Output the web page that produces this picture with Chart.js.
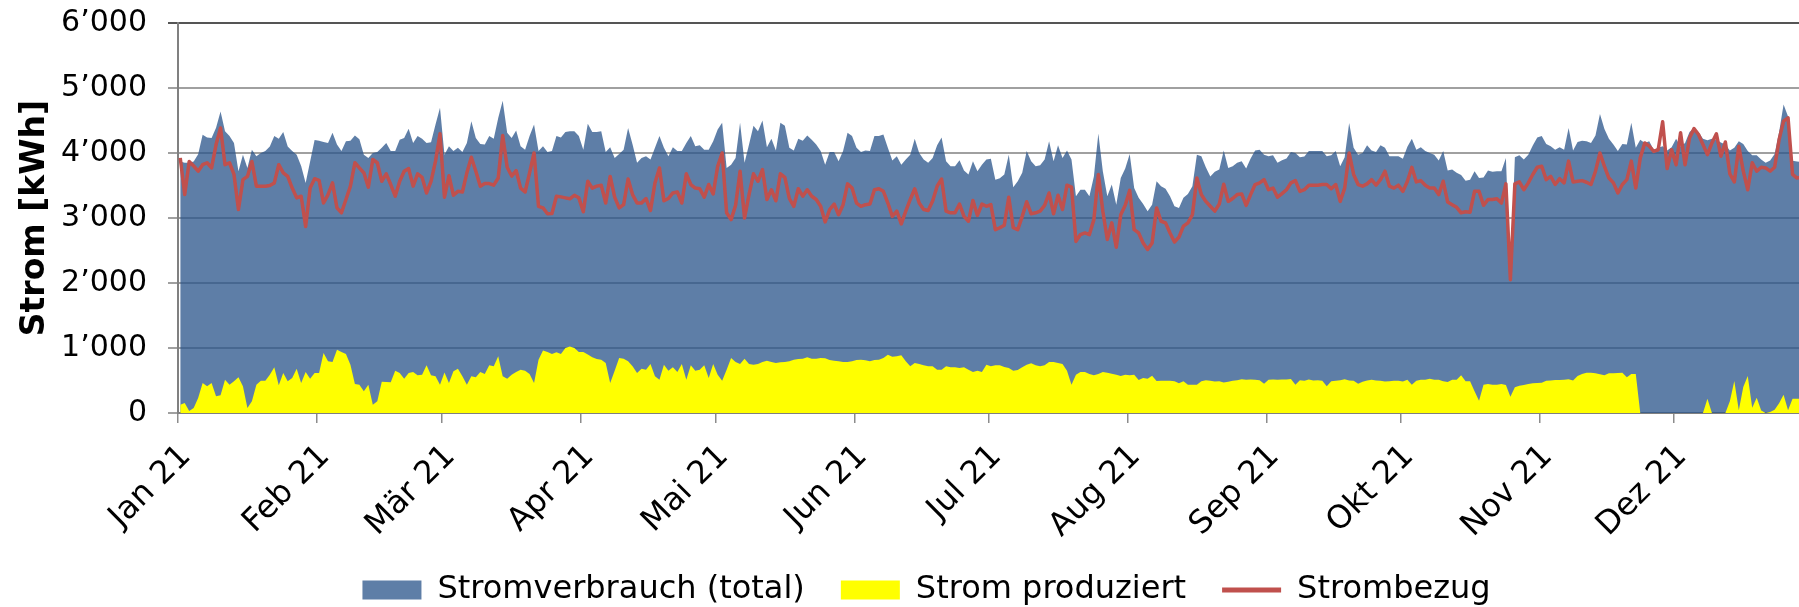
<!DOCTYPE html>
<html>
<head>
<meta charset="utf-8">
<script src="https://cdn.jsdelivr.net/npm/chart.js@4.4.1/dist/chart.umd.min.js"></script>
<style>
  html, body { margin: 0; padding: 0; background: #fff; overflow: hidden; }
  #wrap { width: 1853px; height: 607px; }
</style>
</head>
<body>
<div id="wrap"><canvas id="chart" width="1853" height="607"></canvas></div>
<script>
// Tage ab 1. Januar, an denen die Monate beginnen
const monthStarts = [0, 31, 59, 90, 120, 151, 181, 212, 243, 273, 304, 334];
const monthLabels = ['Jan 21', 'Feb 21', 'Mär 21', 'Apr 21', 'Mai 21', 'Jun 21', 'Jul 21', 'Aug 21', 'Sep 21', 'Okt 21', 'Nov 21', 'Dez 21'];
const yTicks = [0, 1000, 2000, 3000, 4000, 5000, 6000];

// Tageswerte kWh, 1. Jan bis 29. Dez (Rest ist im Bild abgeschnitten)
const verbrauch = [
  // Jan
  3870, 3850, 3850, 3870, 3980, 4280, 4240, 4230, 4390, 4640, 4335, 4260, 4155, 3720, 3975, 3770,
  4050, 3950, 4000, 4030, 4100, 4260, 4220, 4325, 4100, 4030, 3975, 3800, 3540, 3870, 4200,
  // Feb
  4190, 4170, 4155, 4310, 4130, 4030, 4180, 4190, 4270, 4210, 3975, 3925, 4000, 4015,
  4080, 4155, 4030, 4030, 4205, 4230, 4375, 4155, 4260, 4220, 4155, 4165, 4440, 4695,
  // Mär
  3975, 4105, 4030, 4080, 4015, 4155, 4490, 4230, 4140, 4130, 4260, 4220, 4540, 4805, 4310, 4230,
  4345, 4105, 4050, 4260, 4440, 4030, 4105, 4015, 4030, 4260, 4240, 4325, 4335, 4335, 4260,
  // Apr
  4050, 4450, 4325, 4325, 4335, 4015, 4090, 3925, 3985, 4050, 4385, 4130, 3850, 3925, 3950,
  3900, 4080, 4260, 4080, 3950, 4090, 4030, 4030, 4155, 4260, 4105, 4120, 4050, 4050, 4180,
  // Mai
  4360, 4465, 3770, 3820, 3925, 4465, 3850, 4130, 4420, 4335, 4500, 4090, 4220, 4040, 4465, 4420,
  4080, 4040, 4220, 4190, 4270, 4205, 4130, 4030, 3820, 4015, 4015, 3875, 4030, 4310, 4260,
  // Jun
  4080, 4015, 4040, 4030, 4260, 4260, 4285, 4080, 3885, 3950, 3820, 3900, 3975, 4220, 4000,
  3900, 3850, 3925, 4120, 4240, 3875, 3795, 3795, 3890, 3730, 3670, 3875, 3720, 3820, 3900,
  // Jul
  3910, 3590, 3610, 3670, 3975, 3475, 3565, 3695, 4030, 3875, 3795, 3810, 3900, 4180, 3875, 4120,
  3925, 4040, 3900, 3335, 3435, 3435, 3335, 3640, 4300, 3720, 3335, 3515, 3205, 3615, 3760,
  // Aug
  3985, 3460, 3310, 3215, 3105, 3205, 3565, 3490, 3450, 3335, 3180, 3155, 3310, 3370, 3490, 3975,
  3950, 3780, 3640, 3710, 3745, 4040, 3770, 3795, 3850, 3875, 3760, 3915, 4040, 4050, 3975,
  // Sep
  3950, 3965, 3850, 3890, 3915, 4015, 4000, 3935, 3945, 4030, 4030, 4030, 4030, 3950, 3965,
  4030, 3795, 3935, 4460, 4080, 3975, 4000, 4120, 4040, 4015, 4120, 4080, 3950, 3950, 3950,
  // Okt
  3910, 4095, 4220, 4050, 4090, 4030, 4000, 3975, 3885, 4030, 3730, 3745, 3695, 3660, 3575, 3590,
  3720, 3615, 3625, 3730, 3710, 3720, 3720, 3925, 2100, 3935, 3965, 3900, 3975, 4115, 4240,
  // Nov
  4260, 4140, 4105, 4050, 4090, 4050, 4385, 4040, 4170, 4190, 4180, 4155, 4270, 4600, 4370,
  4220, 4130, 4030, 4140, 4130, 4465, 4080, 4205, 4155, 4180, 4050, 4080, 4105, 4040, 4090,
  // Dez
  4220, 4100, 4155, 4325, 4385, 4325, 4220, 4195, 4220, 4200, 4160, 4130, 4040, 4080, 4180,
  4140, 4030, 3965, 3965, 3900, 3850, 3885, 3985, 4325, 4745, 4560, 3880, 3870, 3860
];

const produziert = [
  // Jan
  128, 154, 30, 77, 230, 460, 410, 460, 256, 272, 513, 436, 487, 549, 410, 77,
  180, 436, 498, 498, 590, 703, 426, 616, 487, 539, 682, 462, 631, 528, 616,
  // Feb
  616, 923, 795, 785, 975, 939, 908, 744, 446, 436, 333, 436, 128, 180,
  480, 477, 472, 650, 615, 528, 615, 630, 580, 590, 734, 580, 565, 436,
  // Mär
  625, 460, 641, 682, 565, 436, 565, 549, 630, 600, 734, 718, 872, 565, 528, 590,
  630, 667, 650, 600, 460, 820, 960, 940, 908, 935, 908, 1000, 1025, 1000, 940,
  // Apr
  940, 900, 857, 831, 821, 770, 462, 651, 846, 836, 795, 718, 616, 682, 667,
  754, 564, 513, 744, 651, 703, 631, 754, 513, 734, 651, 667, 734, 539, 754,
  // Mai
  590, 498, 667, 846, 785, 754, 836, 754, 744, 754, 785, 805, 785, 770, 780, 785,
  795, 820, 830, 836, 857, 836, 836, 846, 841, 815, 805, 795, 785, 785, 795,
  // Jun
  815, 820, 810, 795, 815, 820, 846, 898, 867, 872, 887, 795, 718, 770, 754,
  734, 718, 718, 667, 667, 718, 703, 703, 693, 703, 667, 631, 651, 631, 744,
  // Jul
  718, 734, 735, 708, 693, 651, 662, 703, 744, 764, 734, 718, 734, 785, 785, 770,
  754, 651, 436, 590, 631, 631, 600, 580, 600, 631, 620, 605, 590, 570, 590,
  // Aug
  580, 590, 508, 539, 528, 575, 492, 498, 498, 498, 487, 457, 487, 436, 436, 436,
  490, 505, 495, 485, 490, 470, 480, 495, 505, 520, 510, 515, 510, 505, 450,
  // Sep
  510, 515, 510, 515, 515, 525, 435, 505, 495, 515, 500, 505, 495, 410, 490,
  495, 505, 520, 500, 495, 450, 480, 500, 510, 500, 495, 485, 490, 495, 495,
  // Okt
  485, 513, 436, 497, 513, 513, 528, 513, 513, 487, 477, 513, 513, 580, 487, 487,
  333, 190, 436, 446, 436, 436, 446, 431, 251, 395, 420, 431, 445, 456, 462,
  // Nov
  467, 497, 500, 508, 508, 510, 518, 500, 569, 600, 621, 618, 610, 595, 580,
  610, 612, 615, 621, 549, 600, 600, 0, 0, 0, 0, 0, 0, 0, 0,
  // Dez
  0, 0, 0, 0, 0, 0, 0, 221, 0, 0, 0, 0, 180, 492, 41,
  400, 569, 82, 236, 40, 0, 15, 50, 150, 282, 41, 221, 221, 221
];

const bezug = [
  // Jan
  3925, 3360, 3870, 3800, 3720, 3820, 3850, 3770, 4130, 4385, 3820, 3850, 3670, 3130, 3590, 3640,
  3870, 3490, 3490, 3490, 3500, 3540, 3820, 3695, 3640, 3460, 3310, 3335, 2870, 3460, 3605,
  // Feb
  3580, 3230, 3360, 3540, 3155, 3080, 3285, 3490, 3850, 3770, 3695, 3475, 3900, 3850,
  3565, 3680, 3515, 3335, 3565, 3720, 3760, 3490, 3680, 3625, 3385, 3565, 3875, 4295,
  // Mär
  3320, 3650, 3350, 3410, 3400, 3695, 3935, 3720, 3490, 3530, 3530, 3505, 3615, 4270, 3780, 3645,
  3730, 3460, 3400, 3695, 4000, 3180, 3155, 3065, 3070, 3335, 3325, 3310, 3295, 3350, 3310,
  // Apr
  3095, 3565, 3460, 3490, 3505, 3230, 3640, 3320, 3155, 3205, 3600, 3360, 3230, 3230, 3300,
  3115, 3540, 3770, 3265, 3300, 3385, 3400, 3230, 3680, 3515, 3460, 3450, 3320, 3515, 3370,
  // Mai
  3795, 4000, 3080, 2975, 3195, 3720, 3000, 3360, 3680, 3565, 3745, 3285, 3435, 3265, 3680, 3625,
  3300, 3180, 3450, 3335, 3435, 3335, 3285, 3180, 2940, 3130, 3215, 3050, 3205, 3525, 3460,
  // Jun
  3230, 3180, 3205, 3215, 3435, 3450, 3410, 3230, 3025, 3105, 2910, 3105, 3285, 3450, 3230,
  3130, 3115, 3260, 3490, 3600, 3105, 3080, 3080, 3215, 3025, 2950, 3270, 3040, 3215, 3180,
  // Jul
  3205, 2820, 2850, 2890, 3320, 2850, 2820, 3025, 3250, 3065, 3080, 3105, 3195, 3385, 3065, 3350,
  3130, 3505, 3475, 2640, 2745, 2770, 2745, 2975, 3670, 3105, 2670, 2925, 2550, 3050, 3195,
  // Aug
  3425, 2820, 2770, 2615, 2515, 2615, 3155, 2950, 2925, 2770, 2630, 2705, 2875, 2925, 3050, 3615,
  3360, 3255, 3180, 3105, 3215, 3520, 3255, 3300, 3360, 3370, 3195, 3360, 3515, 3540, 3590,
  // Sep
  3435, 3460, 3320, 3375, 3435, 3540, 3575, 3410, 3435, 3505, 3505, 3505, 3515, 3515, 3450,
  3515, 3255, 3460, 4000, 3670, 3515, 3490, 3525, 3590, 3505, 3590, 3720, 3490, 3460, 3505,
  // Okt
  3410, 3565, 3780, 3555, 3575, 3505, 3460, 3460, 3360, 3565, 3245, 3205, 3165, 3080, 3095, 3090,
  3410, 3410, 3195, 3285, 3285, 3295, 3230, 3525, 2050, 3525, 3555, 3435, 3540, 3670, 3780,
  // Nov
  3795, 3590, 3640, 3515, 3605, 3540, 3875, 3555, 3565, 3575, 3550, 3515, 3720, 4000, 3795,
  3615, 3540, 3385, 3515, 3590, 3875, 3460, 3925, 4155, 4105, 4025, 4050, 4480, 3760, 4050,
  // Dez
  3820, 4310, 3820, 4230, 4375, 4285, 4130, 3975, 4155, 4295, 3950, 4170, 3680, 3555, 4105,
  3720, 3435, 3850, 3720, 3780, 3770, 3720, 3780, 4205, 4490, 4540, 3670, 3615, 3630
];

// Punkt eines Tages liegt in der Mitte des Tages
const toPoints = vals => vals.map((v, i) => ({ x: i + 0.5, y: v }));
const fmtKwh = v => v === 0 ? '0' : (v / 1000) + '\u2019000';

Chart.defaults.font.family = '"DejaVu Sans", Verdana, sans-serif';
Chart.defaults.font.size = 32;
Chart.defaults.color = '#000';

// Legende nur so hoch wie nötig, Abstand zwischen Einträgen bleibt gross
const legendFit = {
  id: 'legendFit',
  beforeInit(chart) {
    const fit = chart.legend.fit;
    chart.legend.fit = function () {
      fit.call(this);
      this.height = 69;
    };
  }
};

new Chart(document.getElementById('chart'), {
  type: 'line',
  data: {
    datasets: [
      {
        label: 'Stromverbrauch (total)',
        data: toPoints(verbrauch),
        fill: 'origin',
        backgroundColor: 'rgba(44,85,139,0.76)',
        borderColor: 'rgba(0,0,0,0)',
        borderWidth: 0,
        pointRadius: 0,
        pointStyle: 'rect',
        pointBorderWidth: 0,
        order: 3
      },
      {
        label: 'Strom produziert',
        data: toPoints(produziert),
        fill: 'origin',
        backgroundColor: '#ffff00',
        borderColor: 'rgba(0,0,0,0)',
        borderWidth: 0,
        pointRadius: 0,
        pointStyle: 'rect',
        pointBorderWidth: 0,
        order: 2
      },
      {
        label: 'Strombezug',
        data: toPoints(bezug),
        fill: false,
        borderColor: '#c0504d',
        borderWidth: 3.5,
        borderJoinStyle: 'round',
        tension: 0,
        pointRadius: 0,
        pointStyle: 'line',
        pointBorderColor: '#c0504d',
        pointBorderWidth: 5,
        order: 1
      }
    ]
  },
  options: {
    responsive: false,
    animation: false,
    events: [],
    layout: { padding: { top: 23, right: 0, left: 0, bottom: 0 } },
    plugins: {
      tooltip: { enabled: false },
      legend: {
        position: 'bottom',
        labels: {
          usePointStyle: true,
          pointStyleWidth: 59,
          boxHeight: 19,
          padding: 36,
          sort: (a, b) => a.datasetIndex - b.datasetIndex
        }
      }
    },
    scales: {
      x: {
        type: 'linear',
        min: 0,
        max: 374,
        afterBuildTicks: axis => { axis.ticks = monthStarts.map(v => ({ value: v })); },
        afterFit: axis => { axis.height = 125; },
        ticks: {
          autoSkip: false,
          minRotation: 45,
          maxRotation: 45,
          padding: 15,
          labelOffset: 8,
          callback: (v, i) => monthLabels[i]
        },
        grid: { drawOnChartArea: false, drawTicks: true, tickLength: 10, color: '#8c8c8c', lineWidth: 1.5 },
        border: { display: true, color: '#808080', width: 2 }
      },
      y: {
        min: 0,
        max: 6000,
        afterBuildTicks: axis => { axis.ticks = yTicks.map(v => ({ value: v })); },
        afterFit: axis => {
          axis.width = 178;
          axis.paddingTop = 0;
          axis.paddingBottom = 0;
        },
        ticks: { padding: 21, font: { size: 30 }, callback: v => fmtKwh(v) },
        grid: {
          drawTicks: true,
          tickLength: 10,
          lineWidth: 2,
          color: c => c.tick && c.tick.value === 6000 ? '#555555' : '#a0a0a0'
        },
        border: { display: true, color: '#808080', width: 2 },
        title: {
          display: true,
          text: 'Strom [kWh]',
          font: { weight: 'bold', size: 33 },
          padding: { top: 16, bottom: 0 }
        }
      }
    }
  },
  plugins: [legendFit]
});
</script>
</body>
</html>
